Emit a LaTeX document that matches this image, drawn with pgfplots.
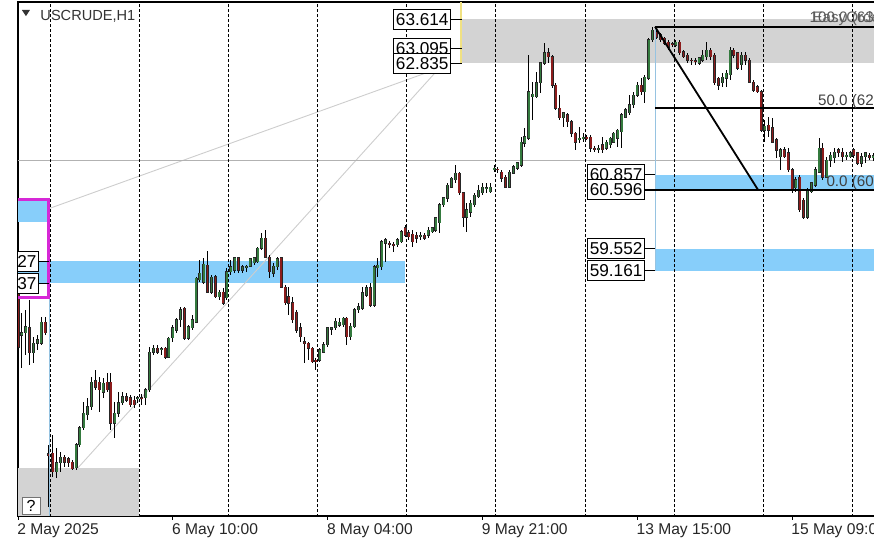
\documentclass[border=0pt]{standalone}
\usepackage{pgfplots}
\pgfplotsset{compat=1.18}
\usepackage{pgfplotstable}
\usepackage{fontspec}
\setmainfont{Liberation Sans}
\definecolor{bull}{RGB}{52,122,62}
\definecolor{bear}{RGB}{140,28,28}
\definecolor{zoneblue}{RGB}{135,206,250}
\definecolor{zonegray}{RGB}{211,211,211}
\definecolor{mag}{RGB}{214,40,214}
\definecolor{vblue}{RGB}{150,195,225}
\definecolor{vyellow}{RGB}{240,225,130}
\definecolor{tline}{RGB}{205,205,205}
\tikzset{pricebox/.style={draw=black, line width=0.5pt, fill=white, inner xsep=1pt, inner ysep=0pt, minimum height=10pt, font=\fontsize{8.6}{10}\selectfont, anchor=east},
  gridv/.style={black, line width=0.45pt, dash pattern=on 1.5pt off 1pt},
  fibl/.style={black, line width=0.8pt}}
\pgfplotsset{candlebar/.style={only marks, mark=text, text mark={}, forget plot}}

\pgfplotstableread{
i o h l c
0 58.82 58.91 57.76 57.81
1 58.02 58.41 57.44 58.06
2 58.06 58.47 57.67 58.17
3 58.15 58.64 57.49 57.71
4 57.71 57.99 57.53 57.88
5 57.88 58.02 57.76 57.94
6 57.88 58.34 57.85 58.25
7 58.25 58.34 58.02 58.06
8 55.92 56.08 54.98 55.89
9 55.93 56.25 55.51 55.60
10 55.60 56.02 55.49 55.76
11 55.76 55.95 55.60 55.86
12 55.86 55.90 55.68 55.77
13 55.83 55.86 55.68 55.76
14 55.77 55.81 55.63 55.65
15 55.67 56.11 55.63 56.08
16 56.08 56.41 56.04 56.38
17 56.38 56.84 56.34 56.64
18 56.61 56.91 56.52 56.75
19 56.75 57.28 56.70 57.19
20 57.21 57.40 57.05 57.10
21 57.19 57.28 56.66 57.05
22 57.01 57.26 56.91 57.17
23 57.19 57.35 57.01 57.05
24 57.19 57.35 56.34 56.46
25 56.46 56.84 56.20 56.64
26 56.64 57.01 56.57 56.82
27 56.82 57.01 56.79 56.93
28 56.93 56.99 56.84 56.87
29 56.91 56.96 56.75 56.79
30 56.87 56.94 56.73 56.79
31 56.89 56.94 56.82 56.91
32 56.91 56.98 56.79 56.89
33 56.91 57.08 56.79 57.05
34 57.05 57.81 57.01 57.72
35 57.72 57.85 57.67 57.79
36 57.79 57.85 57.69 57.72
37 57.76 57.81 57.67 57.78
38 57.79 57.81 57.60 57.63
39 57.63 57.99 57.62 57.97
40 57.97 58.20 57.90 58.15
41 58.11 58.32 58.06 58.29
42 58.29 58.52 58.17 58.47
43 58.50 58.52 57.94 57.97
44 57.97 58.20 57.94 58.17
45 58.15 58.38 58.11 58.29
46 58.25 59.05 58.23 59.03
47 59.00 59.35 58.96 59.12
48 58.96 59.39 58.93 59.28
49 59.26 59.51 58.77 58.78
50 58.78 59.09 58.75 59.05
51 59.05 59.09 58.68 58.70
52 58.70 58.82 58.64 58.78
53 58.78 58.86 58.55 58.59
54 58.68 59.21 58.64 59.14
55 59.14 59.35 59.09 59.23
56 59.17 59.41 59.12 59.39
57 59.39 59.41 59.12 59.17
58 59.17 59.26 59.12 59.23
59 59.23 59.26 59.14 59.24
60 59.24 59.39 59.23 59.37
61 59.30 59.41 59.26 59.39
62 59.32 59.58 59.30 59.56
63 59.56 59.83 59.53 59.74
64 59.74 59.88 59.39 59.40
65 59.40 59.44 59.03 59.14
66 59.12 59.30 59.05 59.24
67 59.23 59.41 59.17 59.37
68 59.39 59.41 58.86 58.87
69 58.87 58.91 58.55 58.59
70 58.70 58.87 58.38 58.59
71 58.59 58.70 58.23 58.29
72 58.43 58.47 58.06 58.11
73 58.15 58.23 57.90 57.99
74 57.90 57.99 57.53 57.88
75 57.88 57.90 57.58 57.79
76 57.79 57.81 57.53 57.55
77 57.58 57.62 57.40 57.55
78 57.58 57.79 57.55 57.76
79 57.72 57.90 57.71 57.85
80 57.85 58.17 57.81 58.15
81 58.13 58.17 58.02 58.15
82 58.15 58.32 58.11 58.27
83 58.20 58.32 58.17 58.25
84 58.20 58.34 58.17 58.32
85 58.32 58.34 57.85 57.99
86 57.99 58.23 57.94 58.18
87 58.17 58.50 58.15 58.47
88 58.47 58.59 58.41 58.52
89 58.50 58.87 58.47 58.77
90 58.73 58.91 58.70 58.86
91 58.86 58.94 58.52 58.55
92 58.55 59.26 58.52 59.23
93 59.21 59.39 59.05 59.26
94 59.23 59.71 59.17 59.67
95 59.65 59.74 59.32 59.71
96 59.65 59.69 59.56 59.63
97 59.63 59.67 59.49 59.62
98 59.62 59.74 59.58 59.71
99 59.67 59.88 59.65 59.85
100 59.92 59.97 59.76 59.79
101 59.83 59.88 59.71 59.76
102 59.81 59.88 59.58 59.67
103 59.79 59.85 59.65 59.74
104 59.76 59.85 59.71 59.79
105 59.79 59.83 59.71 59.74
106 59.79 59.94 59.74 59.88
107 59.85 59.94 59.83 59.92
108 59.88 60.11 59.85 60.10
109 60.01 60.36 59.83 60.33
110 60.33 60.47 60.29 60.45
111 60.45 60.72 60.38 60.68
112 60.64 60.82 60.63 60.80
113 60.77 61.03 60.72 60.89
114 60.89 60.91 60.50 60.54
115 60.54 60.56 59.94 60.11
116 60.11 60.36 59.85 60.24
117 60.20 60.41 60.11 60.36
118 60.33 60.54 60.29 60.50
119 60.47 60.68 60.45 60.59
120 60.54 60.72 60.50 60.64
121 60.61 60.72 60.54 60.63
122 60.56 60.72 60.54 60.64
123 60.96 61.03 60.91 60.98
124 60.96 61.00 60.89 60.95
125 60.91 60.95 60.73 60.80
126 60.82 60.86 60.63 60.64
127 60.64 60.95 60.63 60.91
128 60.89 61.03 60.87 61.00
129 60.98 61.09 60.95 61.07
130 61.03 61.53 61.00 61.44
131 61.42 61.69 61.35 61.53
132 61.51 62.98 61.48 62.33
133 62.24 62.50 61.83 62.29
134 62.24 62.68 62.22 62.49
135 62.49 62.86 62.31 62.84
136 62.84 63.19 62.81 63.02
137 63.02 63.11 62.84 62.95
138 62.95 62.98 62.40 62.45
139 62.45 62.49 62.01 62.04
140 62.04 62.27 61.83 61.87
141 61.87 61.97 61.71 61.96
142 61.92 61.96 61.71 61.80
143 61.80 61.83 61.53 61.60
144 61.60 61.62 61.30 61.44
145 61.49 61.71 61.42 61.51
146 61.51 61.60 61.44 61.53
147 61.53 61.56 61.48 61.51
148 61.53 61.56 61.26 61.33
149 61.33 61.37 61.26 61.32
150 61.32 61.39 61.25 61.33
151 61.39 61.53 61.25 61.30
152 61.33 61.48 61.30 61.44
153 61.39 61.53 61.33 61.51
154 61.44 61.62 61.42 61.60
155 61.51 61.67 61.35 61.65
156 61.62 61.96 61.33 61.92
157 61.88 62.04 61.87 62.01
158 61.96 62.27 61.92 62.10
159 62.10 62.33 62.04 62.27
160 62.27 62.50 62.24 62.45
161 62.45 62.57 62.27 62.33
162 62.33 62.63 62.13 62.59
163 62.57 63.28 62.54 63.25
164 63.25 63.48 63.21 63.42
165 63.39 63.42 63.27 63.30
166 63.34 63.37 63.21 63.25
167 63.28 63.30 63.16 63.19
168 63.21 63.25 63.07 63.12
169 63.18 63.21 63.12 63.16
170 63.16 63.25 63.12 63.21
171 63.21 63.25 62.98 63.02
172 63.04 63.07 62.93 62.95
173 62.98 63.02 62.84 62.89
174 62.89 62.93 62.81 62.88
175 62.88 62.93 62.81 62.86
176 62.84 62.95 62.81 62.93
177 62.89 63.07 62.86 62.98
178 62.95 63.21 62.89 63.07
179 63.07 63.11 62.89 62.95
180 62.98 63.02 62.45 62.49
181 62.57 62.59 62.36 62.45
182 62.49 62.66 62.42 62.59
183 62.57 62.72 62.42 62.66
184 62.63 63.12 62.54 63.07
185 63.07 63.11 62.93 62.98
186 63.02 63.04 62.72 62.75
187 62.81 63.04 62.72 62.98
188 62.98 63.04 62.81 62.89
189 62.89 62.93 62.49 62.50
190 62.50 62.54 62.33 62.36
191 62.42 62.45 62.31 62.33
192 62.33 62.36 61.62 61.65
193 61.65 61.83 61.44 61.72
194 61.74 61.88 61.53 61.65
195 61.69 61.87 61.42 61.44
196 61.48 61.51 61.16 61.30
197 61.18 61.33 60.95 61.30
198 61.30 61.35 61.16 61.18
199 61.25 61.33 60.91 60.95
200 60.95 60.98 60.54 60.59
201 60.63 60.82 60.56 60.77
202 60.82 60.86 60.20 60.24
203 60.41 60.45 60.08 60.11
204 60.11 60.63 60.08 60.59
205 60.56 60.73 60.54 60.72
206 60.68 61.00 60.64 60.95
207 60.91 61.51 60.89 61.33
208 61.33 61.42 60.77 60.82
209 60.82 61.18 60.80 61.12
210 61.12 61.26 61.00 61.21
211 61.16 61.33 61.07 61.26
212 61.30 61.33 61.18 61.25
213 61.26 61.33 61.09 61.18
214 61.18 61.26 61.12 61.21
215 61.18 61.28 61.16 61.25
216 61.30 61.33 61.16 61.21
217 61.25 61.26 61.03 61.07
218 61.07 61.25 61.00 61.18
219 61.18 61.26 61.07 61.25
220 61.21 61.25 61.12 61.16
221 61.16 61.25 61.10 61.20
}\candles

\begin{document}
\begin{tikzpicture}
\begin{axis}[
  at={(9pt,14.5pt)}, anchor=south west,
  scale only axis,
  x=1.935pt, y=28.23pt,
  xmin=0, xmax=224, ymin=54.817, ymax=63.92,
  axis line style={black, line width=0.6pt},
  ytick=\empty,
  xtick={0,40,80,120,160,200},
  xticklabels={2 May 2025, 6 May 10:00, 8 May 04:00, 9 May 21:00, 13 May 15:00, 15 May 09:00},
  xtick pos=bottom,
  tick align=outside, major tick length=2pt,
  xtick style={black, line width=0.5pt},
  xticklabel style={anchor=north west, inner sep=0pt, font=\fontsize{7.8}{9}\selectfont, text=black!85, xshift=-0.5pt, yshift=-1.5pt},
  clip=true,
]
% zones
\fill[zonegray] (axis cs:114.7,62.835) rectangle (axis cs:230,63.614);
\fill[zonegray] (axis cs:-5,50) rectangle (axis cs:31.2,55.668);
\fill[zoneblue] (axis cs:-5,58.937) rectangle (axis cs:100,59.327);
\fill[zoneblue] (axis cs:-5,60.02) rectangle (axis cs:7.8,60.41);
\fill[zoneblue] (axis cs:164.6,60.596) rectangle (axis cs:230,60.857);
\fill[zoneblue] (axis cs:164.6,59.161) rectangle (axis cs:230,59.552);
% trend lines and price line
\draw[tline, line width=0.45pt] (axis cs:7.75,60.255) -- (axis cs:109.0,62.752);
\draw[tline, line width=0.45pt] (axis cs:15.5,55.67) -- (axis cs:110.3,62.858);
\draw[black!30, line width=0.5pt] (axis cs:-5,61.12) -- (axis cs:230,61.12);
% grid
\draw[gridv] (axis cs:8.3,54) -- (axis cs:8.3,64);
\draw[gridv] (axis cs:31.3,54) -- (axis cs:31.3,64);
\draw[gridv] (axis cs:54.3,54) -- (axis cs:54.3,64);
\draw[gridv] (axis cs:77.3,54) -- (axis cs:77.3,64);
\draw[gridv] (axis cs:100.3,54) -- (axis cs:100.3,64);
\draw[gridv] (axis cs:123.3,54) -- (axis cs:123.3,64);
\draw[gridv] (axis cs:146.5,54) -- (axis cs:146.5,64);
\draw[gridv] (axis cs:169.5,54) -- (axis cs:169.5,64);
\draw[gridv] (axis cs:192.5,54) -- (axis cs:192.5,64);
\draw[gridv] (axis cs:215.7,54) -- (axis cs:215.7,64);
% candles: wicks
\addplot[candlebar,
  error bars/.cd, y dir=both, y explicit, error mark=none,
  error bar style={line width=0.5pt, black}]
  table[x=i, y expr={(\thisrow{h}+\thisrow{l})/2}, y error expr={(\thisrow{h}-\thisrow{l})/2}] {\candles};
% bodies outline
\addplot[candlebar,
  error bars/.cd, y dir=both, y explicit, error mark=none,
  error bar style={line width=1.5pt, black!85}]
  table[x=i, y expr={(\thisrow{o}+\thisrow{c})/2}, y error expr={abs(\thisrow{c}-\thisrow{o})/2+0.009}] {\candles};
% bull bodies
\addplot[candlebar,
  y filter/.expression={\thisrow{c}<\thisrow{o} ? nan : y},
  error bars/.cd, y dir=both, y explicit, error mark=none,
  error bar style={line width=0.8pt, bull}]
  table[x=i, y expr={(\thisrow{o}+\thisrow{c})/2}, y error expr={abs(\thisrow{c}-\thisrow{o})/2}] {\candles};
% bear bodies
\addplot[candlebar,
  y filter/.expression={\thisrow{c}<\thisrow{o} ? y : nan},
  error bars/.cd, y dir=both, y explicit, error mark=none,
  error bar style={line width=0.8pt, bear}]
  table[x=i, y expr={(\thisrow{o}+\thisrow{c})/2}, y error expr={abs(\thisrow{c}-\thisrow{o})/2}] {\candles};
% vertical helper lines and magenta box
\draw[vblue, line width=0.5pt] (axis cs:8.1,54) -- (axis cs:8.1,58.68);
\draw[vblue, line width=0.5pt] (axis cs:164.6,59.161) -- (axis cs:164.6,63.483);
\draw[vyellow, line width=0.7pt] (axis cs:114.5,62.835) -- (axis cs:114.5,64);
\draw[mag, line width=1.5pt] (axis cs:-5,58.68) rectangle (axis cs:8.0,60.43);
% fibonacci
\draw[fibl] (axis cs:164.6,63.483) -- (axis cs:230,63.483);
\draw[fibl] (axis cs:164.6,62.04) -- (axis cs:230,62.04);
\draw[fibl] (axis cs:162,60.596) -- (axis cs:230,60.596);
\draw[black, line width=0.9pt] (axis cs:164.6,63.483) -- (axis cs:191.2,60.596);
\node[anchor=base west, inner sep=0pt, font=\fontsize{7.6}{9}\selectfont, text=black!60] at (axis cs:205.2,63.566) {EasyOrder};
\node[anchor=base east, inner sep=0pt, font=\fontsize{7.6}{9}\selectfont, text=black!65] at (axis cs:230.2,63.566) {100.0 (63.483)};
\node[anchor=base east, inner sep=0pt, font=\fontsize{7.6}{9}\selectfont, text=black!75] at (axis cs:230.2,62.096) {50.0 (62.040)};
\node[anchor=base east, inner sep=0pt, font=\fontsize{7.6}{9}\selectfont, text=black!75] at (axis cs:230.2,60.644) {0.0 (60.596)};
% price labels
\draw[black, line width=0.5pt] (axis cs:111.9,63.614) -- (axis cs:114.7,63.614);
\draw[black, line width=0.5pt] (axis cs:111.9,63.095) -- (axis cs:114.7,63.095);
\draw[black, line width=0.5pt] (axis cs:111.9,62.835) -- (axis cs:114.7,62.835);
\node[pricebox] at (axis cs:111.9,63.614) {63.614};
\node[pricebox] at (axis cs:111.9,63.095) {63.095};
\node[pricebox] at (axis cs:111.9,62.835) {62.835};
\draw[black, line width=0.5pt] (axis cs:162,60.857) -- (axis cs:164.6,60.857);
\draw[black, line width=0.5pt] (axis cs:162,59.552) -- (axis cs:164.6,59.552);
\draw[black, line width=0.5pt] (axis cs:162,59.161) -- (axis cs:164.6,59.161);
\node[pricebox] at (axis cs:162,60.857) {60.857};
\node[pricebox] at (axis cs:162,60.596) {60.596};
\node[pricebox] at (axis cs:162,59.552) {59.552};
\node[pricebox] at (axis cs:162,59.161) {59.161};
\draw[black, line width=0.5pt] (axis cs:5.43,59.327) -- (axis cs:8.0,59.327);
\draw[black, line width=0.5pt] (axis cs:5.43,58.937) -- (axis cs:8.0,58.937);
\node[pricebox] at (axis cs:5.43,59.327) {59.327};
\node[pricebox] at (axis cs:5.43,58.937) {58.937};
% title and help box
\fill[black!80] (axis cs:1.0,63.78) -- (axis cs:3.1,63.78) -- (axis cs:2.05,63.67) -- cycle;
\node[anchor=base west, inner sep=0pt, font=\fontsize{7.3}{9}\selectfont, text=black!80] at (axis cs:5.7,63.60) {USCRUDE,H1};
\node[draw=black!55, fill=white, minimum width=9pt, minimum height=8.5pt, inner sep=0pt, font=\fontsize{8}{9}\selectfont] at (axis cs:3.36,55.0) {?};
\end{axis}
\pgfresetboundingbox
\path[use as bounding box] (0,0) rectangle (437pt,272.5pt);
\end{tikzpicture}
\end{document}
